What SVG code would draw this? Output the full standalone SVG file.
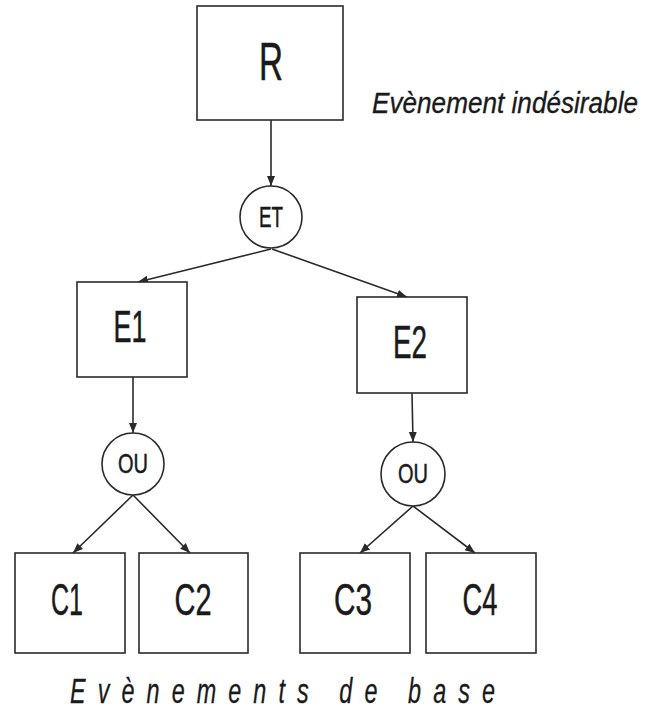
<svg xmlns="http://www.w3.org/2000/svg" width="650" height="709" viewBox="0 0 650 709">
<style>
.box{fill:#fff;stroke:#2a2a2a;stroke-width:1.6}
.gate{fill:#fff;stroke:#2a2a2a;stroke-width:1.6}
.lbl{font-family:"Liberation Sans",Arial,sans-serif;fill:#1a1a1a;stroke:#1a1a1a;stroke-width:0.5;text-anchor:middle}
.cap{font-family:"Liberation Sans",Arial,sans-serif;font-style:italic;fill:#1a1a1a;stroke:#1a1a1a;stroke-width:0.3}
#connectors line{stroke:#2a2a2a;stroke-width:1.6;fill:none}
</style>
<defs>
<marker id="arr" markerUnits="userSpaceOnUse" markerWidth="10" markerHeight="10" viewBox="0 0 10 10" refX="10" refY="5" orient="auto">
<path d="M0,1 L10,5 L0,9 z" fill="#2a2a2a"/>
</marker>
</defs>
<rect width="650" height="709" fill="#fff"/>
<g id="connectors">
<line x1="271" y1="120" x2="271" y2="186" marker-end="url(#arr)"/>
<line x1="271" y1="249" x2="138" y2="282" marker-end="url(#arr)"/>
<line x1="272" y1="249" x2="407" y2="297" marker-end="url(#arr)"/>
<line x1="133" y1="377" x2="133" y2="433" marker-end="url(#arr)"/>
<line x1="412" y1="393" x2="413" y2="442" marker-end="url(#arr)"/>
<line x1="133" y1="495" x2="73" y2="553" marker-end="url(#arr)"/>
<line x1="133" y1="495" x2="190" y2="553" marker-end="url(#arr)"/>
<line x1="413" y1="506" x2="360" y2="553" marker-end="url(#arr)"/>
<line x1="413" y1="506" x2="475" y2="553" marker-end="url(#arr)"/>
</g>
<g id="R">
<rect class="box" x="197" y="6" width="146" height="114"/>
<text class="lbl" x="271" y="80" font-size="53" textLength="24" lengthAdjust="spacingAndGlyphs">R</text>
</g>
<g id="ET">
<circle class="gate" cx="271" cy="217" r="31"/>
<text class="lbl" x="271" y="227" font-size="30" textLength="24" lengthAdjust="spacingAndGlyphs">ET</text>
</g>
<g id="E1">
<rect class="box" x="77" y="282" width="110" height="95"/>
<text class="lbl" x="130" y="342" font-size="44" textLength="33" lengthAdjust="spacingAndGlyphs">E1</text>
</g>
<g id="E2">
<rect class="box" x="357" y="297" width="110" height="96"/>
<text class="lbl" x="410" y="358" font-size="47" textLength="34" lengthAdjust="spacingAndGlyphs">E2</text>
</g>
<g id="OU1">
<circle class="gate" cx="133" cy="464" r="31"/>
<text class="lbl" x="133" y="473" font-size="28" textLength="30" lengthAdjust="spacingAndGlyphs">OU</text>
</g>
<g id="OU2">
<circle class="gate" cx="413" cy="474" r="32"/>
<text class="lbl" x="413" y="483" font-size="28" textLength="30" lengthAdjust="spacingAndGlyphs">OU</text>
</g>
<g id="C1">
<rect class="box" x="15" y="553" width="110" height="100"/>
<text class="lbl" x="67" y="615" font-size="44" textLength="32" lengthAdjust="spacingAndGlyphs">C1</text>
</g>
<g id="C2">
<rect class="box" x="139" y="553" width="109" height="100"/>
<text class="lbl" x="193" y="615" font-size="44" textLength="37" lengthAdjust="spacingAndGlyphs">C2</text>
</g>
<g id="C3">
<rect class="box" x="300" y="553" width="110" height="100"/>
<text class="lbl" x="353" y="615" font-size="44" textLength="38" lengthAdjust="spacingAndGlyphs">C3</text>
</g>
<g id="C4">
<rect class="box" x="426" y="553" width="110" height="100"/>
<text class="lbl" x="480" y="615" font-size="44" textLength="35" lengthAdjust="spacingAndGlyphs">C4</text>
</g>
<text class="cap" transform="translate(372,113) scale(1,1.115)" x="0" y="0" font-size="26" textLength="266" lengthAdjust="spacingAndGlyphs">Evènement indésirable</text>
<text class="cap" transform="translate(70,703) scale(0.65,1)" x="0" y="0" font-size="36" textLength="654" lengthAdjust="spacing">Evènements de base</text>
</svg>
